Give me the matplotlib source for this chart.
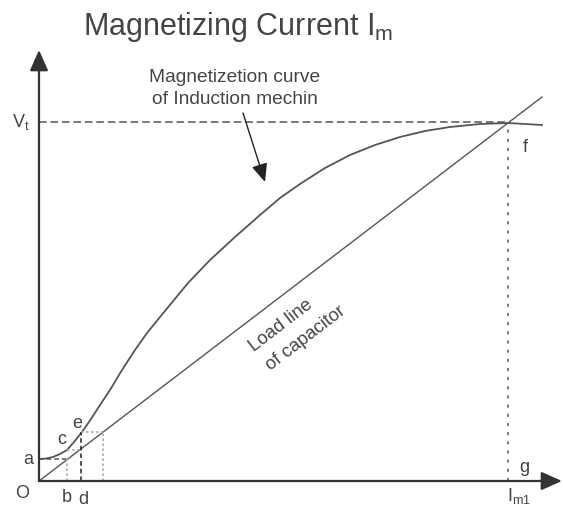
import matplotlib
matplotlib.use('Agg')
import matplotlib.pyplot as plt
import numpy as np

plt.rcParams['font.family'] = ['Liberation Sans', 'DejaVu Sans']
plt.rcParams['mathtext.default'] = 'regular'

# magnetization curve (x = current, y = voltage)
curve_x = [0, 7, 14, 21, 28, 35, 43, 52, 61, 71, 83, 96, 108, 121, 135, 149, 171, 196, 221,
           241, 261, 286, 311, 336, 361, 386, 411, 441, 469, 503]
curve_y = [22, 22.5, 24, 27, 31, 39, 49, 62, 76, 91, 111, 131, 148, 164, 181, 198, 221, 244, 266,
           283, 297, 313, 326, 336, 344, 350, 354, 357, 358, 356]

# load line of capacitor
load_x = [0, 503]
load_y = [0, 384]

# operating point f
vt = 359
im1 = 469

# build-up steps a..e
a_y = 22
b_x = 28
c_y = 31
c_x2 = 41
d_x = 42
e_y = 49
e_x2 = 64

txt = '#444444'
ln = '#555555'
ax_c = '#333333'
light = '#aaaaaa'

fig = plt.figure(figsize=(5.63, 5.16), dpi=100)
ax = fig.add_axes([0, 0, 1, 1])
ax.set_xlim(-39, 524)
ax.set_ylim(-35, 481)
ax.axis('off')

# axes with arrows
ax.annotate('', xy=(0, 431), xytext=(0, 0),
            arrowprops=dict(arrowstyle='-|>,head_length=0.9,head_width=0.4',
                            color=ax_c, lw=1.6, mutation_scale=14, shrinkA=0, shrinkB=0))
ax.annotate('', xy=(523, 0), xytext=(0, 0),
            arrowprops=dict(arrowstyle='-|>,head_length=0.9,head_width=0.4',
                            color=ax_c, lw=1.6, mutation_scale=14, shrinkA=0, shrinkB=0))

# curves
ax.plot(curve_x, curve_y, color=ln, lw=1.3, solid_joinstyle='round')
ax.plot(load_x, load_y, color=ln, lw=1.0)

# Vt and Im1 guide lines
ax.plot([0, im1], [vt, vt], color=ln, lw=1.1, dashes=(5, 2.5))
ax.plot([im1, im1], [0, vt], color=ln, lw=1.1, dashes=(2, 4))

# build-up construction
ax.plot([0, b_x], [a_y, a_y], color=ln, lw=1.1, dashes=(3, 2))
ax.plot([b_x, b_x], [0, a_y], color=light, lw=1.2, dashes=(1.5, 1.5))
ax.plot([b_x, c_x2], [c_y, c_y], color=light, lw=1.2, dashes=(1.5, 1.5))
ax.plot([d_x, d_x], [0, e_y], color='#222222', lw=1.1, dashes=(3, 2))
ax.plot([d_x, e_x2], [e_y, e_y], color=light, lw=1.2, dashes=(1.5, 1.5))
ax.plot([e_x2, e_x2], [0, e_y], color=light, lw=1.2, dashes=(1.5, 1.5))

# title
fig.text(238 / 563, 1 - 27 / 516, 'Magnetizing Current I$_{m}$', fontsize=22,
         color=txt, ha='center', va='center')

# annotation for magnetization curve
ax.text(196, 399, 'Magnetizetion curve', fontsize=13.8, color=txt, ha='center', va='baseline')
ax.text(196, 377, 'of Induction mechin', fontsize=13.8, color=txt, ha='center', va='baseline')
ax.annotate('', xy=(226, 299), xytext=(204, 368),
            arrowprops=dict(arrowstyle='-|>,head_length=0.8,head_width=0.35',
                            color='#222222', lw=1.0, mutation_scale=14, shrinkA=0, shrinkB=0))

# load line label
ang = 37.4
ax.text(215, 129, 'Load line', fontsize=13.3, color=txt, rotation=ang,
        rotation_mode='anchor', ha='left', va='baseline')
ax.text(232, 110, 'of capacitor', fontsize=13.3, color=txt, rotation=ang,
        rotation_mode='anchor', ha='left', va='baseline')

# point labels
fs = 13
ax.text(-11, 22, 'a', fontsize=fs, color=txt, ha='center', va='center')
ax.text(-17, -12, 'O', fontsize=fs, color=txt, ha='center', va='center')
ax.text(28, -16, 'b', fontsize=fs, color=txt, ha='center', va='center')
ax.text(44, -19, 'd', fontsize=fs, color=txt, ha='center', va='center')
ax.text(23, 41, 'c', fontsize=fs, color=txt, ha='center', va='center')
ax.text(38, 58, 'e', fontsize=fs, color=txt, ha='center', va='center')
ax.text(486, 334, 'f', fontsize=fs, color=txt, ha='center', va='center')
ax.text(485, 14, 'g', fontsize=fs, color=txt, ha='center', va='center')
ax.text(468, -15, 'I$_{m1}$', fontsize=fs, color=txt, ha='left', va='center')
ax.text(-27, 359, 'V$_{t}$', fontsize=fs, color=txt, ha='left', va='center')

plt.savefig('out.png', dpi=100)
plt.close()
